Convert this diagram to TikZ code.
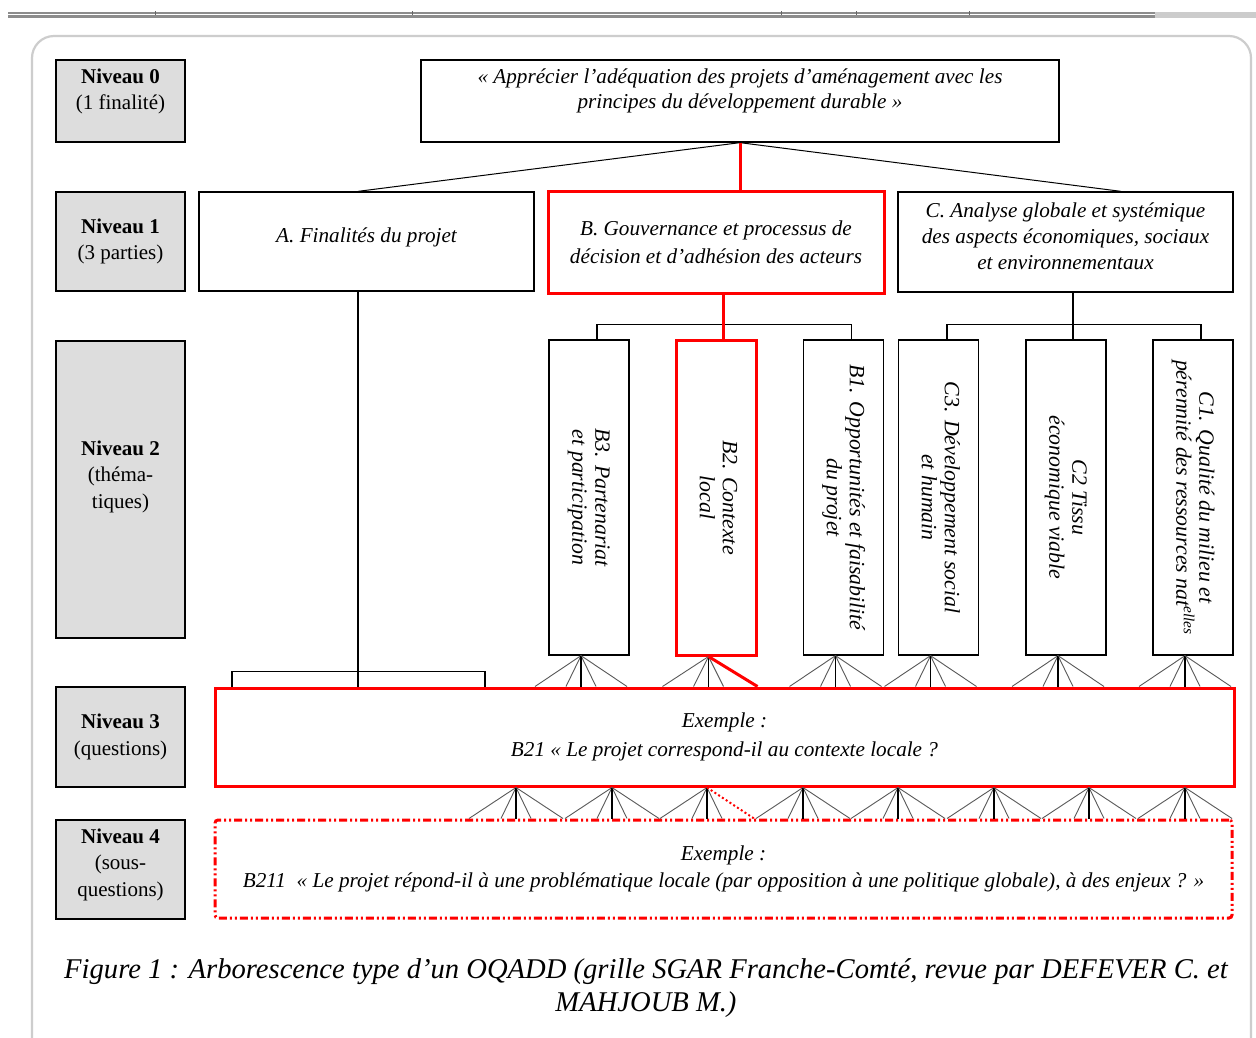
\documentclass[tikz,border=0pt]{standalone}
\usepackage{fontspec}
\setmainfont{Liberation Serif}
\usetikzlibrary{calc}
\definecolor{lblgray}{RGB}{221,221,221}
\definecolor{hired}{RGB}{255,0,0}
\definecolor{framegray}{RGB}{205,205,205}
\begin{document}
\begin{tikzpicture}[x=1pt,y=-1pt,
  box/.style={draw=black, line width=1.3pt, fill=white, inner sep=2pt, align=center,
    font=\fontsize{21.2}{26}\selectfont\itshape},
  redbox/.style={box, draw=hired, line width=3pt},
  vbox/.style={box, minimum width=80pt, minimum height=315pt, font=\fontsize{21.8}{26}\selectfont\itshape},
  lvl/.style={draw=black, line width=1.5pt, fill=lblgray, align=center, inner sep=1pt,
    font=\fontsize{21}{26.5}\selectfont, minimum width=129pt},
  link/.style={draw=black, line width=1.2pt},
  redlink/.style={draw=hired, line width=3pt},
  fanline/.style={draw=black!65, line width=0.9pt},
  dotlink/.style={draw=hired, line width=2pt, dash pattern=on 2pt off 2.5pt},
  dashdotdot/.style={dash pattern=on 8pt off 3pt on 2pt off 3pt on 2pt off 3pt}
]
\useasboundingbox[fill=white] (0,0) rectangle (1256,1037);
% window artefacts
\fill[black!45] (8,12) rectangle (1155,17.5);
\fill[black!20] (1155,12) rectangle (1256,17.5);
\draw[white, line width=0.8pt] (8,14.5) -- (1155,14.5);
\foreach \t in {155,412,781,856,969} \draw[black!60, line width=0.8pt] (\t,11) -- (\t,15);
\draw[framegray, line width=2.2pt] (32,1040) -- (32,58) arc[start angle=180, end angle=90, radius=22pt]
  -- (1229,36) arc[start angle=90, end angle=0, radius=22pt] -- (1251,1040);

% level labels
\node[lvl, minimum height=82pt, text depth=24pt] (N0) at (120.5,101) {\textbf{Niveau 0}\\(1 finalité)};
\node[lvl, minimum height=99pt] (N1) at (120.5,241.5) {\textbf{Niveau 1}\\(3 parties)};
\node[lvl, minimum height=297pt, text depth=30pt] (N2) at (120.5,489.5) {\textbf{Niveau 2}\\(théma-\\tiques)};
\node[lvl, minimum height=100pt] (N3) at (120.5,737) {\textbf{Niveau 3}\\(questions)};
\node[lvl, minimum height=99pt, text depth=14pt] (N4) at (120.5,869.5) {\textbf{Niveau 4}\\(sous-\\questions)};

% level 0
\node[box, minimum width=638pt, minimum height=82pt, text depth=24pt, font=\fontsize{21.2}{25}\selectfont\itshape] (L0) at (740,101)
  {« Apprécier l’adéquation des projets d’aménagement avec les\\principes du développement durable »};
% level 1
\node[box, minimum width=335pt, minimum height=99pt, text depth=12pt] (A) at (366.5,241.5) {A. Finalités du projet};
\node[redbox, minimum width=336pt, minimum height=102pt, font=\fontsize{21.2}{28}\selectfont\itshape] (B) at (716,242)
  {B. Gouvernance et processus de\\décision et d’adhésion des acteurs};
\node[box, minimum width=335pt, minimum height=100pt, text depth=12pt] (C) at (1065.5,242)
  {C. Analyse globale et systémique\\des aspects économiques, sociaux\\et environnementaux};
% level 2
\newcommand{\vtext}[2]{\rotatebox{-90}{\begin{tabular}{@{}c@{}}#1\\[-3pt]#2\end{tabular}}}
\node[vbox] (B3) at (589,497.5) {\vtext{B3. Partenariat}{et participation}};
\node[vbox, draw=hired, line width=3pt] (B2) at (716.5,497.5) {\vtext{B2. Contexte}{local}};
\node[vbox] (B1) at (843.5,497.5) {\vtext{B1. Opportunités et faisabilité}{du projet}};
\node[vbox] (C3) at (938.5,497.5) {\vtext{C3. Développement social}{et humain}};
\node[vbox] (C2) at (1066,497.5) {\vtext{C2 Tissu}{économique viable}};
\node[vbox] (C1) at (1193,497.5) {\vtext{C1. Qualité du milieu et}{pérennité des ressources nat\textsuperscript{elles}}};
% level 3
\node[redbox, minimum width=1019pt, minimum height=98pt, font=\fontsize{21.2}{29}\selectfont\itshape] (L3) at (724.5,737)
  {Exemple :\\B21 « Le projet correspond-il au contexte locale ?};
% level 4
\node[redbox, dashdotdot, rounded corners=3pt, minimum width=1017pt, minimum height=98pt, font=\fontsize{21.2}{27}\selectfont\itshape] (L4) at (723.5,869)
  {Exemple :\\B211 ~« Le projet répond-il à une problématique locale (par opposition à une politique globale), à des enjeux ? »};

% caption
\node[align=center, font=\fontsize{28.6}{33}\selectfont\itshape] (cap) at (646,988)
  {Figure 1 : Arborescence type d’un OQADD (grille SGAR Franche-Comté, revue par DEFEVER C. et\\MAHJOUB M.)};

% level 0 -> level 1
\draw[link, line width=1pt] (L0.south) -- ($(A.north)+(-8.5,0)$);
\draw[link, line width=1pt] (L0.south) -- ($(C.north)+(55.5,0)$);
\draw[redlink] (L0.south) -- (L0.south |- B.north);

% level 1 -> level 2 / 3
\coordinate (Aj) at ($(A.south)+(-8.5,0)$);
\draw[link] (Aj) -- (Aj |- L3.north);
\draw[link] ($(Aj |- L3.north)+(-126,0)$) -- ++(0,-15) -- ++(253,0) -- ++(0,15);
\coordinate (Bj) at ($(B.south)+(7,0)$);
\draw[link] ($(B3.north)+(8,0)$) -- ++(0,-15) -| ($(B1.north)+(8,0)$);
\draw[redlink] (Bj) -- (Bj |- B2.north);
\coordinate (Cj) at ($(C.south)+(7.5,0)$);
\draw[link] (Cj) -- (Cj |- C2.north);
\draw[link] ($(C3.north)+(8.5,0)$) -- ++(0,-15) -| ($(C1.north)+(8,0)$);

% level 2 -> level 3 fans
\foreach \nd in {B3,B2,B1,C3,C2,C1}{
  \coordinate (ap\nd) at ($(\nd.south)+(-8,0)$);
  \foreach \d in {-46,-15,15}{
    \draw[fanline] (ap\nd) -- ($(ap\nd |- L3.north)+(\d,0)$);
  }
  \draw[link] (ap\nd) -- (ap\nd |- L3.north);
}
\foreach \nd in {B3,B1,C3,C2,C1}{
  \draw[fanline] (ap\nd) -- ($(ap\nd |- L3.north)+(46,0)$);
}
\draw[redlink] (apB2) -- ($(apB2 |- L3.north)+(49,0)$);

% level 3 -> level 4 fans
\foreach \x [count=\i] in {516,612,707,803,898,994,1089,1185}{
  \coordinate (q\i) at ($(L3.south)+(\x-724.5,0)$);
  \foreach \d in {-47,-15,15}{
    \draw[fanline] (q\i) -- ($(q\i |- L4.north)+(\d,0)$);
  }
  \draw[link] (q\i) -- (q\i |- L4.north);
  \ifnum\i=3
    \draw[dotlink] (q\i) -- ($(q\i |- L4.north)+(47,0)$);
  \else
    \draw[fanline] (q\i) -- ($(q\i |- L4.north)+(47,0)$);
  \fi
}
\end{tikzpicture}
\end{document}
